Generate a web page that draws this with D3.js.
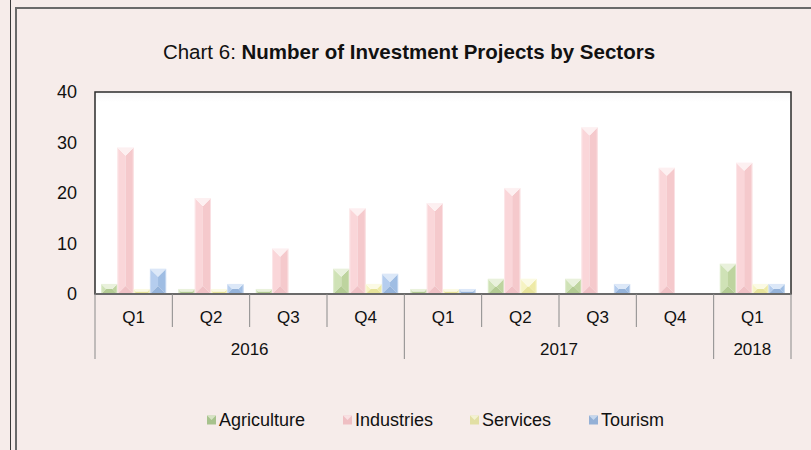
<!DOCTYPE html>
<html>
<head>
<meta charset="utf-8">
<script src="https://cdn.jsdelivr.net/npm/d3@7"></script>
<style>
  html, body { margin: 0; padding: 0; background: #f6ecea; }
  svg { display: block; font-family: "Liberation Sans", Arial, sans-serif; }
</style>
</head>
<body>
<svg id="chart" width="811" height="450"></svg>
<script>
// quarters along the x axis and the year each one belongs to
const quarters = ["Q1", "Q2", "Q3", "Q4", "Q1", "Q2", "Q3", "Q4", "Q1"];
const quarterYears = ["2016", "2016", "2016", "2016", "2017", "2017", "2017", "2017", "2018"];

const seriesNames = ["Agriculture", "Industries", "Services", "Tourism"];
const agriculture = [2, 1, 1, 5, 1, 3, 3, 0, 6];
const industries = [29, 19, 9, 17, 18, 21, 33, 25, 26];
const services = [1, 1, 0, 2, 1, 3, 0, 0, 2];
const tourism = [5, 2, 0, 4, 1, 0, 2, 0, 2];
const yTicks = [0, 10, 20, 30, 40];

const seriesValues = [agriculture, industries, services, tourism];

// base colour, lighter top, darker bottom, legend swatch
const palette = {
  Agriculture: { base: "#c6dcaa", left: "#cfe2b6", right: "#bed49f", top: "#e9f1dc", bottom: "#b3cb93", swatch: "#a7c28d" },
  Industries:  { base: "#f8d0d3", left: "#fad6d9", right: "#f5c9cc", top: "#fdf0f1", bottom: "#f0c1c5", swatch: "#efbfc3" },
  Services:    { base: "#f3f0b4", left: "#f6f3c2", right: "#eeeaa6", top: "#fbfae4", bottom: "#e7e39a", swatch: "#e2dfa4" },
  Tourism:     { base: "#a9c5e9", left: "#b5cdee", right: "#9fbde3", top: "#dce8f8", bottom: "#95b3da", swatch: "#94b0d6" }
};

const svg = d3.select("#chart");

const plot = { left: 95, top: 92, right: 791, bottom: 294 };

// outer frame lines
svg.append("line").attr("x1", 10.5).attr("x2", 10.5).attr("y1", 0).attr("y2", 450)
  .attr("stroke", "#3a3a3a").attr("stroke-width", 1);
svg.append("line").attr("x1", 16).attr("x2", 16).attr("y1", 7).attr("y2", 450)
  .attr("stroke", "#6a6a6a").attr("stroke-width", 2);
svg.append("line").attr("x1", 15).attr("x2", 811).attr("y1", 8).attr("y2", 8)
  .attr("stroke", "#6a6a6a").attr("stroke-width", 2);

// title
const title = svg.append("text")
  .attr("x", 409).attr("y", 59)
  .attr("text-anchor", "middle")
  .attr("font-size", "20.5px")
  .attr("fill", "#111");
title.append("tspan").text("Chart 6: ");
title.append("tspan").attr("font-weight", "bold").text("Number of Investment Projects by Sectors");

// plot area background with soft shading at top
const defs = svg.append("defs");
const grad = defs.append("linearGradient").attr("id", "plotBg")
  .attr("x1", 0).attr("y1", 0).attr("x2", 0).attr("y2", 1);
grad.append("stop").attr("offset", "0").attr("stop-color", "#f7f7f7");
grad.append("stop").attr("offset", "0.05").attr("stop-color", "#ffffff");
grad.append("stop").attr("offset", "1").attr("stop-color", "#ffffff");

svg.append("rect")
  .attr("x", plot.left).attr("y", plot.top)
  .attr("width", plot.right - plot.left).attr("height", plot.bottom - plot.top)
  .attr("fill", "url(#plotBg)")
  .attr("stroke", "#2b2b2b").attr("stroke-width", 1.5);

const x = d3.scaleBand()
  .domain(d3.range(quarters.length))
  .range([plot.left, plot.right])
  .paddingInner(0.16)
  .paddingOuter(0.08);

const xInner = d3.scaleBand()
  .domain(seriesNames)
  .range([0, x.bandwidth()]);

const y = d3.scaleLinear().domain([0, 40]).range([plot.bottom, plot.top]);

// bars with a pyramid bevel look
const bars = [];
seriesNames.forEach((name, si) => {
  seriesValues[si].forEach((v, qi) => {
    if (v > 0) bars.push({ name, qi, v });
  });
});

const barG = svg.append("g");
bars.forEach(b => {
  const c = palette[b.name];
  const x0 = x(b.qi) + xInner(b.name);
  const w = xInner.bandwidth();
  const y0 = y(b.v);
  const h = y(0) - y0;
  const d = Math.min(w / 2, h / 2);
  const x1 = x0 + w, y1 = y0 + h;
  const g = barG.append("g");
  const poly = (pts, fill) => g.append("polygon")
    .attr("points", pts.map(p => p.join(",")).join(" "))
    .attr("fill", fill);
  poly([[x0, y0], [x0 + d, y0 + d], [x0 + d, y1 - d], [x0, y1]], c.left);
  poly([[x1, y0], [x1 - d, y0 + d], [x1 - d, y1 - d], [x1, y1]], c.right);
  if (w - 2 * d > 0.01) {
    g.append("rect").attr("x", x0 + d).attr("y", y0 + d)
      .attr("width", w - 2 * d).attr("height", Math.max(0, h - 2 * d)).attr("fill", c.base);
  }
  poly([[x0, y1], [x1, y1], [x1 - d, y1 - d], [x0 + d, y1 - d]], c.bottom);
  poly([[x0, y0], [x1, y0], [x1 - d, y0 + d], [x0 + d, y0 + d]], c.top);
  g.append("rect").attr("x", x0 + 0.5).attr("y", y0 + 0.5)
    .attr("width", w - 1).attr("height", Math.max(0, h - 1))
    .attr("fill", "none").attr("stroke", c.top).attr("stroke-width", 1).attr("opacity", 0.6);
});

// x axis line
svg.append("line")
  .attr("x1", plot.left).attr("x2", plot.right)
  .attr("y1", y(0)).attr("y2", y(0))
  .attr("stroke", "#6a6a6a").attr("stroke-width", 2);

// y axis labels
svg.append("g").selectAll("text")
  .data(yTicks).enter().append("text")
  .attr("x", 77).attr("y", d => y(d))
  .attr("dy", "0.36em")
  .attr("text-anchor", "end")
  .attr("font-size", "18px")
  .attr("fill", "#111")
  .text(d => d);

// quarter separators and labels
const step = x.step();
const bounds = d3.range(quarters.length + 1).map(i => plot.left + i * step);
const yearStarts = quarterYears.map((yr, i) => i === 0 || quarterYears[i - 1] !== yr);

bounds.forEach((bx, i) => {
  const isYearEdge = i === quarters.length || yearStarts[i];
  svg.append("line")
    .attr("x1", bx).attr("x2", bx)
    .attr("y1", y(0)).attr("y2", isYearEdge ? 359 : 327)
    .attr("stroke", "#8a8a8a").attr("stroke-width", 1);
});

svg.append("g").selectAll("text")
  .data(quarters).enter().append("text")
  .attr("x", (d, i) => x(i) + x.bandwidth() / 2)
  .attr("y", 317).attr("dy", "0.36em")
  .attr("text-anchor", "middle")
  .attr("font-size", "17px")
  .attr("fill", "#111")
  .text(d => d);

const yearGroups = d3.groups(quarterYears.map((yr, i) => ({ yr, i })), d => d.yr);
svg.append("g").selectAll("text")
  .data(yearGroups).enter().append("text")
  .attr("x", d => {
    const first = d[1][0].i, last = d[1][d[1].length - 1].i;
    return (bounds[first] + bounds[last + 1]) / 2;
  })
  .attr("y", 349).attr("dy", "0.36em")
  .attr("text-anchor", "middle")
  .attr("font-size", "17px")
  .attr("fill", "#111")
  .text(d => d[0]);

// legend
const legendX = [207, 343, 470, 589];
const legend = svg.append("g");
seriesNames.forEach((name, i) => {
  const c = palette[name];
  const lx = legendX[i];
  legend.append("rect").attr("x", lx).attr("y", 415.5).attr("width", 9).attr("height", 9)
    .attr("fill", c.swatch);
  legend.append("polygon")
    .attr("points", `${lx},415.5 ${lx + 9},415.5 ${lx + 4.5},420`)
    .attr("fill", c.top).attr("opacity", 0.7);
  legend.append("text")
    .attr("x", lx + 12).attr("y", 420).attr("dy", "0.36em")
    .attr("font-size", "18px").attr("fill", "#111")
    .text(name);
});
</script>
</body>
</html>
